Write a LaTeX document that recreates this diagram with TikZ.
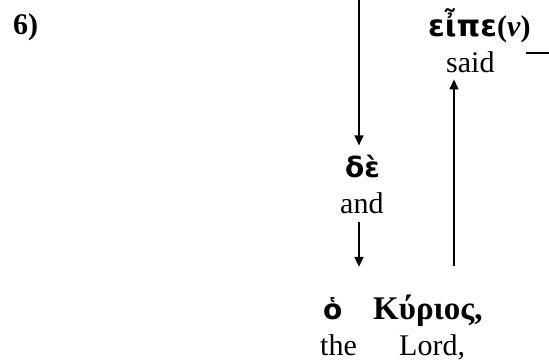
\documentclass[tikz,border=0pt]{standalone}
\usepackage{fontspec}
\setmainfont{Liberation Serif}
\newfontfamily\grksans{DejaVu Sans}
\usetikzlibrary{positioning,arrows.meta,calc}

\begin{document}
\begin{tikzpicture}[x=1pt,y=-1pt,
  every node/.style={inner sep=0pt, anchor=base west},
  gloss/.style={font=\fontsize{30}{34}\selectfont},
  grk/.style={font=\fontsize{30}{34}\selectfont\bfseries},
  grkw/.style={font=\fontsize{33}{36}\selectfont\bfseries},
  grks/.style={font=\fontsize{28}{32}\selectfont\grksans\bfseries},
  link/.style={draw=black, line width=1.6pt},
  arr/.style={link, -{Triangle[length=10pt,width=9pt]}}]

  \useasboundingbox (0,0) rectangle (549,362);

  % ===== sentence number =====
  \node[grk] (num) at (13,34) {6)};

  % ===== verb (top right) =====
  \node[grk]   (eipe) at (428,36) {{\grksans εἶπε}(\textit{ν})};
  \node[gloss] (said) at (446,72) {said};

  % ===== conjunction (middle) =====
  \node[grks]  (de)  at (345,177) {δὲ};
  \node[gloss] (and) at (340,213) {and};

  % ===== subject (bottom) =====
  \node[grks]  (ho)     at (323,319) {ὁ};
  \node[grkw]  (kyrios) at (373,319) {Κύριος,};
  \node[gloss] (the)    at (320,355) {the};
  \node[gloss] (lord)   at (399,355) {Lord,};

  % ===== connectors =====
  \coordinate (top) at (359,0);
  \coordinate (off) at (549,53);
  \draw[arr] (top) -- ($(top |- de.north)+(0,-9)$);
  \draw[arr] ($(and.south -| top)+(0,9)$) -- ($(ho.north -| top)+(0,-30)$);
  \coordinate (ks) at ($(kyrios.north west)+(81,-28)$);
  \draw[arr] (ks) -- ($(ks |- said.south)+(0,7)$);
  \draw[link] ($(said.east |- off)+(31,0)$) -- (off);

\end{tikzpicture}
\end{document}
